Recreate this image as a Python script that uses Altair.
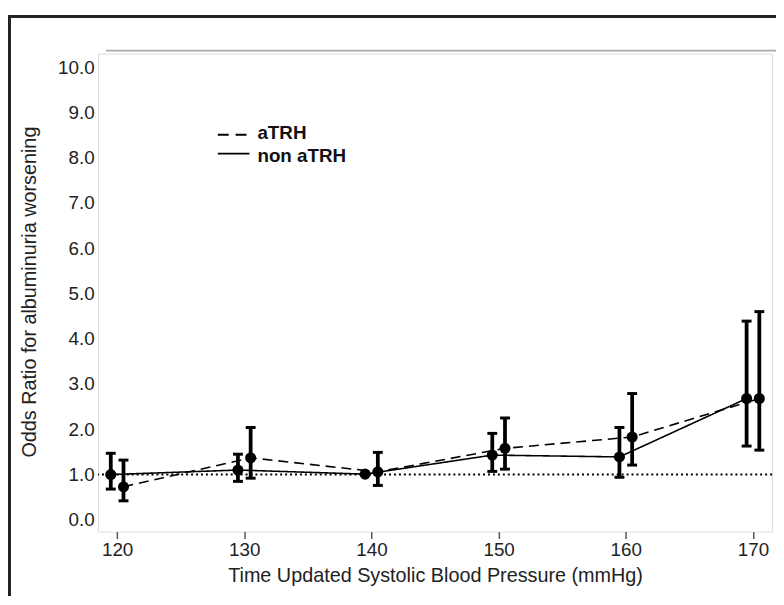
import altair as alt
import pandas as pd

# ---- data ----
sbp = [120, 130, 140, 150, 160, 170]
groups = ["non aTRH", "aTRH"]
non_or = [1.00, 1.10, 1.01, 1.43, 1.39, 2.68]
non_lo = [0.68, 0.85, None, 1.07, 0.94, 1.63]
non_hi = [1.47, 1.45, None, 1.91, 2.04, 4.39]
atrh_or = [0.73, 1.37, 1.06, 1.58, 1.83, 2.68]
atrh_lo = [0.42, 0.92, 0.76, 1.12, 1.21, 1.54]
atrh_hi = [1.32, 2.04, 1.49, 2.25, 2.79, 4.60]
offsets = {"non aTRH": -0.5, "aTRH": 0.5}
y_ticks = [0, 1, 2, 3, 4, 5, 6, 7, 8, 9, 10]
x_ticks = [120, 130, 140, 150, 160, 170]
ref_value = [1.0]
legend_labels = ["aTRH", "non aTRH"]

rows = []
for g, ors, los, his in [("non aTRH", non_or, non_lo, non_hi),
                         ("aTRH", atrh_or, atrh_lo, atrh_hi)]:
    for s, o, lo, hi in zip(sbp, ors, los, his):
        rows.append({"group": g, "sbp": s + offsets[g], "or": o, "lo": lo, "hi": hi})
df = pd.DataFrame(rows)
err = df.dropna(subset=["lo", "hi"])

W, H = 681, 483
FONT = "Liberation Sans"

xs = alt.Scale(domain=[118.5, 171.5], nice=False, zero=False)
ys = alt.Scale(domain=[-0.26, 10.3], nice=False, zero=False)

xax = alt.Axis(values=x_ticks, format="d", grid=False, domain=False,
               ticks=True, tickSize=7, tickWidth=1.5, tickColor="#555",
               labelFontSize=19, labelColor="#222", labelFont=FONT, labelPadding=2,
               title="Time Updated Systolic Blood Pressure (mmHg)",
               titleFontSize=20, titleFontWeight="normal", titleColor="#222",
               titleFont=FONT, titleY=50, titleBaseline="alphabetic")
yax = alt.Axis(values=y_ticks, format=".1f", grid=False, domain=False,
               ticks=False, labelFontSize=19, labelColor="#222", labelFont=FONT,
               labelPadding=4,
               title="Odds Ratio for albuminuria worsening",
               titleFontSize=20, titleFontWeight="normal", titleColor="#222",
               titleFont=FONT, titleX=-63, titleY=H / 2 - 1, titleAngle=-90,
               titleBaseline="alphabetic", titleAlign="center")

base = alt.Chart(df)

ref = alt.Chart(pd.DataFrame({"y": ref_value})).mark_rule(
    color="black", strokeWidth=2, strokeDash=[2, 3]
).encode(y=alt.Y("y:Q", scale=ys, axis=yax))

lines = base.mark_line(color="black", strokeWidth=1.6).encode(
    x=alt.X("sbp:Q", scale=xs, axis=xax),
    y=alt.Y("or:Q", scale=ys, axis=yax),
    strokeDash=alt.StrokeDash("group:N",
                              scale=alt.Scale(domain=groups, range=[[1, 0], [10, 6]]),
                              legend=None),
    detail="group:N",
)

bars = alt.Chart(err).mark_rule(color="black", strokeWidth=3.8).encode(
    x=alt.X("sbp:Q", scale=xs), y=alt.Y("lo:Q", scale=ys), y2="hi:Q")
cap_hi = alt.Chart(err).mark_tick(color="black", orient="horizontal", opacity=1,
                                  size=10, thickness=3).encode(
    x=alt.X("sbp:Q", scale=xs), y=alt.Y("hi:Q", scale=ys))
cap_lo = alt.Chart(err).mark_tick(color="black", orient="horizontal", opacity=1,
                                  size=10, thickness=3).encode(
    x=alt.X("sbp:Q", scale=xs), y=alt.Y("lo:Q", scale=ys))
pts = base.mark_circle(color="black", opacity=1, size=125).encode(
    x=alt.X("sbp:Q", scale=xs), y=alt.Y("or:Q", scale=ys))

# legend drawn by hand
leg_dash = alt.Chart(pd.DataFrame({"k": [0]})).mark_rule(
    color="black", strokeWidth=1.8, strokeDash=[11, 7]).encode(
    x=alt.value(121), x2=alt.value(153), y=alt.value(82))
leg_solid = alt.Chart(pd.DataFrame({"k": [0]})).mark_rule(
    color="black", strokeWidth=1.8).encode(
    x=alt.value(121), x2=alt.value(153), y=alt.value(101))
leg_text = alt.Chart(pd.DataFrame({"label": legend_labels,
                                   "yy": [80, 104]})).mark_text(
    align="left", baseline="middle", fontSize=19, fontWeight="bold",
    font=FONT, color="#111").encode(
    x=alt.value(161), y=alt.Y("yy:Q", scale=None), text="label:N")

# decorative frame lines
top_line = alt.Chart(pd.DataFrame({"k": [0]})).mark_rule(
    color="#aaa", strokeWidth=2).encode(
    x=alt.value(8), x2=alt.value(690), y=alt.value(-3))
outer_top = alt.Chart(pd.DataFrame({"k": [0]})).mark_rule(
    color="#222", strokeWidth=3).encode(
    x=alt.value(-91), x2=alt.value(700), y=alt.value(-37.5))
outer_left = alt.Chart(pd.DataFrame({"k": [0]})).mark_rule(
    color="#222", strokeWidth=3).encode(
    x=alt.value(-89.5), y=alt.value(-39), y2=alt.value(570))

chart = alt.layer(ref, lines, bars, cap_hi, cap_lo, pts,
                  leg_dash, leg_solid, leg_text,
                  top_line, outer_top, outer_left).properties(
    width=W, height=H,
    autosize=alt.AutoSizeParams(type="none"),
    padding={"left": 91, "top": 43, "right": 4, "bottom": 62},
).configure_view(stroke="#555", strokeWidth=1.5).configure(background="white")

chart.save("out.html", embed_options={"renderer": "svg", "actions": False})
